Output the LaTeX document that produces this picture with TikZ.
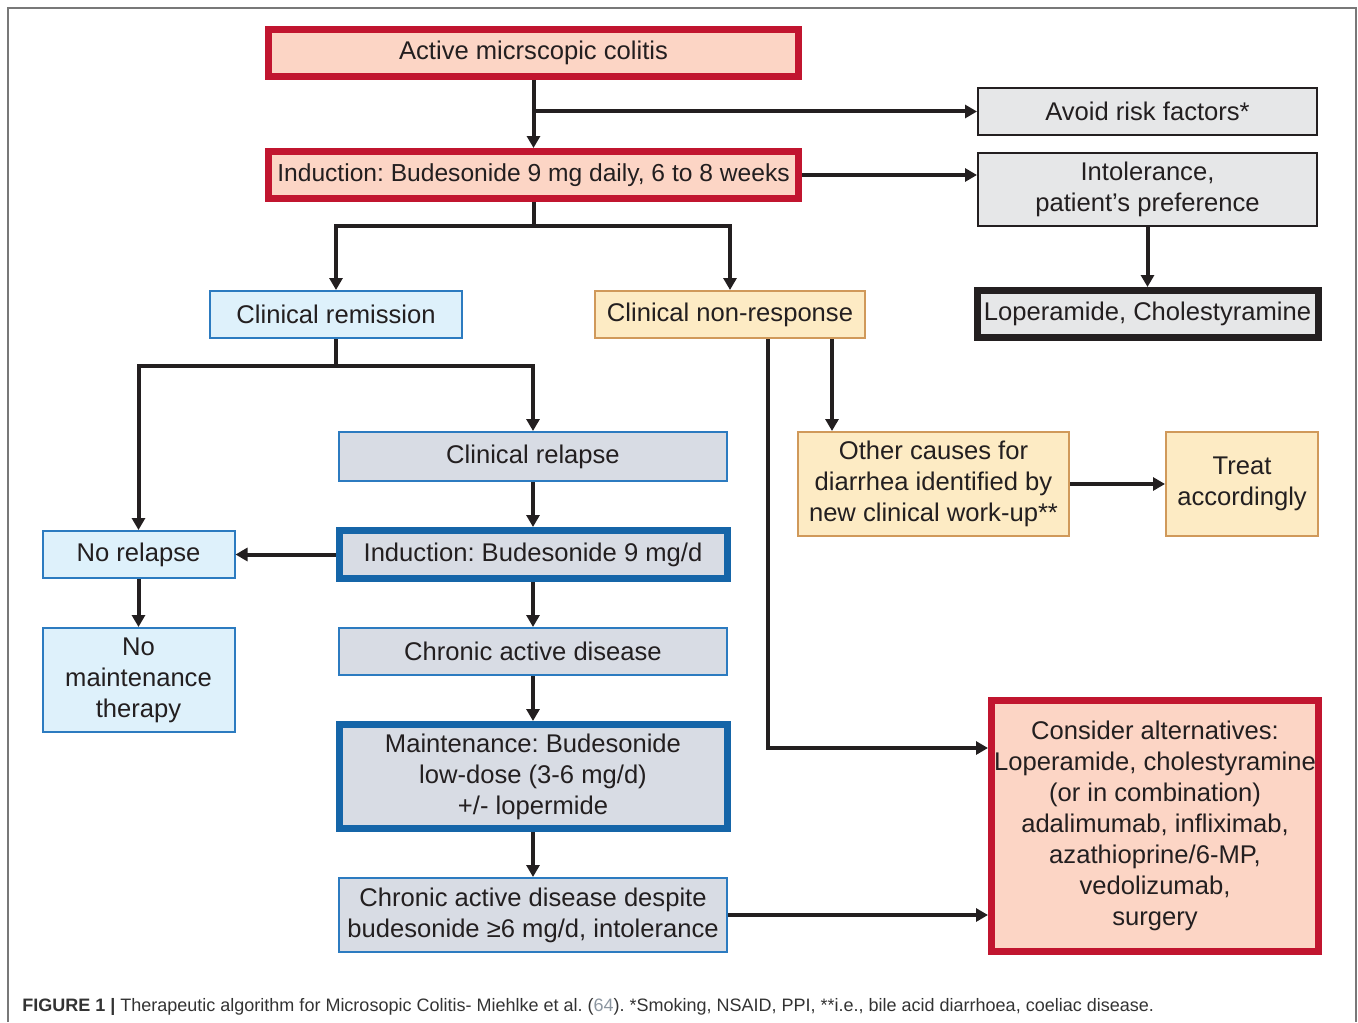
\documentclass[tikz,border=0pt]{standalone}
\usepackage{fontspec}
\setmainfont{Liberation Sans}
\usepackage{xcolor}
\usepackage{tikz}
\usetikzlibrary{positioning,arrows.meta}

\definecolor{fcred}{RGB}{193,21,47}
\definecolor{fcsalmon}{RGB}{252,213,197}
\definecolor{fcgrey}{RGB}{230,231,232}
\definecolor{boxdark}{RGB}{35,31,32}
\definecolor{fcblue}{RGB}{44,123,192}
\definecolor{fcdeepblue}{RGB}{21,101,168}
\definecolor{fclightblue}{RGB}{222,241,251}
\definecolor{fcsteel}{RGB}{216,220,228}
\definecolor{fcyellow}{RGB}{253,235,196}
\definecolor{fctan}{RGB}{208,153,90}
\definecolor{framegrey}{RGB}{120,120,120}
\definecolor{captext}{RGB}{51,51,51}
\definecolor{capnum}{RGB}{140,150,160}

\frenchspacing

\begin{document}
\begin{tikzpicture}[x = 0.5pt, y = -0.5pt, node distance = 22.5pt,
        font = \fontsize{12.8}{15.5}\selectfont, text = boxdark]
            \tikzstyle{box} = [rectangle, inner sep = 0pt, align = center]
            \tikzstyle{redbox} = [box, draw = fcred, line width = 3.5pt, fill = fcsalmon]
            \tikzstyle{greybox} = [box, draw = boxdark, line width = 1pt, fill = fcgrey]
            \tikzstyle{blackbox} = [box, draw = boxdark, line width = 3.5pt, fill = fcgrey]
            \tikzstyle{paleblue} = [box, draw = fcblue, line width = 1pt, fill = fclightblue]
            \tikzstyle{steelbox} = [box, draw = fcblue, line width = 1pt, fill = fcsteel]
            \tikzstyle{steelthick} = [box, draw = fcdeepblue, line width = 3.5pt, fill = fcsteel]
            \tikzstyle{yellowbox} = [box, draw = fctan, line width = 1pt, fill = fcyellow]
            \tikzstyle{flow} = [line width = 2pt, draw = boxdark, -{Triangle[length = 6pt, width = 6.5pt]}]

            \useasboundingbox (0, 0) rectangle (1358, 1022);
            \draw [framegrey, line width = 1pt] (8, 1022) -- (8, 8) -- (1356, 8) -- (1356, 1022);

            \node [redbox, minimum width = 265pt, minimum height = 23.5pt] (active) at (533.5, 53) {Active micrscopic colitis};
            \node [redbox, minimum width = 265pt, minimum height = 23.5pt, below = 34pt of active,
                font = \fontsize{12.3}{15}\selectfont] (ind1) {Induction: Budesonide 9 mg daily, 6 to 8 weeks};

            \node [greybox, minimum width = 169.5pt, minimum height = 23.5pt] (avoid) at (1147.5, 111.5) {Avoid risk factors*};
            \node [greybox, minimum width = 169.5pt, minimum height = 36.5pt, below = 8pt of avoid] (intol) {Intolerance,\\patient's preference};
            \node [blackbox, minimum width = 170.5pt, minimum height = 23.5pt, below = 30pt of intol] (lopcho) {Loperamide, Cholestyramine};

            \node [paleblue, minimum width = 126pt, minimum height = 23.5pt] (remis) at (336, 314.5) {Clinical remission};
            \node [yellowbox, minimum width = 135pt, minimum height = 23.5pt] (nonresp) at (730, 314.5) {Clinical non-response};

            \node [steelbox, minimum width = 194pt, minimum height = 24.5pt] (relapse) at (533, 456.5) {Clinical relapse};
            \node [steelthick, minimum width = 194pt, minimum height = 24pt, below = of relapse] (ind2) {Induction: Budesonide 9 mg/d};
            \node [steelbox, minimum width = 194pt, minimum height = 23.5pt, below = of ind2] (chronic) {Chronic active disease};
            \node [steelthick, minimum width = 194pt, minimum height = 52pt, below = of chronic] (maint) {Maintenance: Budesonide\\low-dose (3-6 mg/d)\\+/- lopermide};
            \node [steelbox, minimum width = 194pt, minimum height = 37pt, below = of maint] (despite) {Chronic active disease despite\\budesonide ≥6 mg/d, intolerance};

            \node [paleblue, minimum width = 96pt, minimum height = 23.5pt, left = 50pt of ind2] (norelapse) {No relapse};
            \node [paleblue, minimum width = 96pt, minimum height = 52pt, below = 24pt of norelapse] (nomaint) {No\\maintenance\\therapy};

            \node [yellowbox, minimum width = 135.5pt, minimum height = 52pt] (other) at (933.5, 484) {Other causes for\\diarrhea identified by\\new clinical work-up**};
            \node [yellowbox, minimum width = 76pt, minimum height = 52pt, right = 47.5pt of other] (treat) {Treat\\accordingly};

            \node [redbox, minimum width = 163.5pt, minimum height = 125.5pt] (alt) at (1155, 826) {Consider alternatives:\\Loperamide, cholestyramine\\(or in combination)\\adalimumab, infliximab,\\azathioprine/6-MP,\\vedolizumab,\\surgery};

            \foreach \a/\b in {active/ind1, intol/lopcho, relapse/ind2, ind2/chronic, chronic/maint, maint/despite, norelapse/nomaint}
                \draw [flow] (\a) -- (\b);

            \draw [flow] (active.south |- avoid.west) -- (avoid.west);
            \draw [flow] (ind1) -- (ind1 -| intol.west);
            \draw [flow] (ind1.south) -- ++(0, -12pt) -| (remis.north);
            \draw [flow] (ind1.south) -- ++(0, -12pt) -| (nonresp.north);
            \draw [flow] (remis.south) -- ++(0, -13.5pt) -| (norelapse.north);
            \draw [flow] (remis.south) -- ++(0, -13.5pt) -| (relapse.north);
            \draw [flow] (ind2) -- (norelapse);
            \draw [flow] (despite) -- (despite -| alt.west);
            \draw [flow] ([xshift = 19pt] nonresp.south) |- ([yshift = 39pt] alt.west);
            \draw [flow] ([xshift = 51pt] nonresp.south) -- ([xshift = 51pt] nonresp.south |- other.north);
            \draw [flow] (other) -- (treat);

            \node [anchor = base west, inner sep = 0pt, text = captext, font = \fontsize{9}{11}\selectfont] (caption) at (22, 1011)
                {\textbf{FIGURE 1 |} Therapeutic algorithm for Microsopic Colitis- Miehlke et al. (\textcolor{capnum}{64}). *Smoking, NSAID, PPI, **i.e., bile acid diarrhoea, coeliac disease.};
        \end{tikzpicture}
\end{document}
